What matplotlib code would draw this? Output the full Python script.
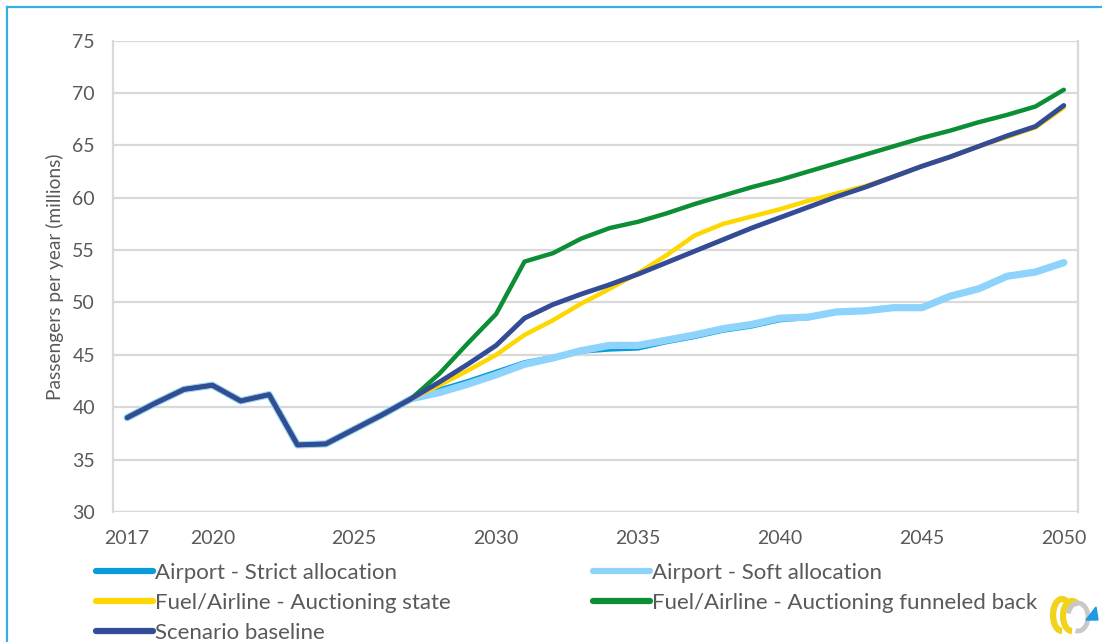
import matplotlib
matplotlib.use("Agg")
import matplotlib.pyplot as plt
from matplotlib.lines import Line2D
from matplotlib.patches import Arc, Polygon

plt.rcParams["font.family"] = ["Lato", "DejaVu Sans"]

# ---- data -------------------------------------------------------------
years = list(range(2017, 2051))
tick_years = [2017, 2020, 2025, 2030, 2035, 2040, 2045, 2050]

history = [39.0, 40.4, 41.7, 42.1, 40.6, 41.2, 36.4, 36.5, 37.9, 39.3, 40.8]

strict_alloc = history + [41.7, 42.5, 43.4, 44.3, 44.8, 45.3, 45.5, 45.6, 46.2,
                          46.7, 47.3, 47.7, 48.3, 48.5, 49.1, 49.2, 49.5, 49.5,
                          50.6, 51.3, 52.5, 52.9, 53.8]
soft_alloc = history + [41.4, 42.2, 43.1, 44.1, 44.7, 45.4, 45.9, 45.9, 46.4,
                        46.9, 47.5, 47.9, 48.5, 48.6, 49.1, 49.2, 49.5, 49.5,
                        50.6, 51.3, 52.5, 52.9, 53.8]
auction_state = history + [42.1, 43.5, 45.0, 46.9, 48.3, 49.9, 51.3, 52.8, 54.5,
                           56.4, 57.5, 58.2, 58.9, 59.7, 60.4, 61.1, 62.0, 63.0,
                           63.9, 64.9, 65.8, 66.7, 68.6]
auction_back = history + [43.2, 46.1, 48.9, 53.9, 54.7, 56.1, 57.1, 57.7, 58.5,
                          59.4, 60.2, 61.0, 61.7, 62.5, 63.3, 64.1, 64.9, 65.7,
                          66.4, 67.2, 67.9, 68.7, 70.3]
baseline = history + [42.4, 44.1, 45.9, 48.5, 49.8, 50.8, 51.7, 52.7, 53.8,
                      54.9, 56.0, 57.1, 58.1, 59.1, 60.1, 61.0, 62.0, 63.0,
                      63.9, 64.9, 65.9, 66.8, 68.8]

labels = ["Airport - Strict allocation", "Airport - Soft allocation",
          "Fuel/Airline - Auctioning state",
          "Fuel/Airline - Auctioning funneled back", "Scenario baseline"]
colors = ["#0A9BD9", "#8DD3FB", "#FFD700", "#0B8E36", "#344B95"]
widths = [3.0, 5.2, 3.2, 3.2, 3.5]

# ---- figure -----------------------------------------------------------
W, H = 1102, 642
fig = plt.figure(figsize=(W / 100, H / 100), dpi=100)
ax = fig.add_axes([113 / W, 1 - 512 / H, (1078 - 113) / W, (512 - 40.5) / H])

pos = list(range(len(years)))
series = [strict_alloc, soft_alloc, auction_state, auction_back, baseline]
lines = []
for vals, col, lw, lab in zip(series, colors, widths, labels):
    ln, = ax.plot(pos, vals, color=col, lw=lw, label=lab,
                  solid_capstyle="round", solid_joinstyle="round")
    lines.append(ln)

ax.set_xlim(-0.5, len(years) - 0.5)
ax.set_ylim(30, 75)
ax.set_yticks(range(30, 76, 5))
ax.set_xticks([years.index(y) for y in tick_years])
ax.set_xticklabels([str(y) for y in tick_years])

grid_col = "#D9D9D9"
ax.grid(axis="y", color=grid_col, lw=1.6)
ax.set_axisbelow(True)
for side in ["top", "bottom"]:
    ax.spines[side].set_visible(False)
for side in ["left", "right"]:
    ax.spines[side].set_color(grid_col)
    ax.spines[side].set_linewidth(1.6)
ax.axhline(30, color=grid_col, lw=1.6, zorder=0.5)

ax.tick_params(axis="both", length=0, labelsize=14, labelcolor="#595959")
ax.tick_params(axis="x", pad=13)
ax.tick_params(axis="y", pad=13)
ax.set_ylabel("Passengers per year (millions)", fontsize=13.8,
              color="#595959", labelpad=6)

# legend: two columns, row order Strict/Soft, State/Back, Baseline
order = [0, 2, 4, 1, 3]
leg_fs = 16
leg_fs_px = leg_fs * 100 / 72
col2_x = 593  # left edge of the second column's handle (px)


def make_legend(colspace):
    lg = fig.legend([lines[i] for i in order], [labels[i] for i in order],
                    ncol=2, loc="upper left",
                    bbox_to_anchor=(96 / W, 1 - 563 / H),
                    frameon=False, fontsize=leg_fs,
                    handlelength=2.57, handletextpad=0.09,
                    columnspacing=colspace, labelspacing=0.44,
                    borderaxespad=0, borderpad=0)
    for t in lg.get_texts():
        t.set_color("#595959")
    for h in lg.legend_handles:
        h.set_linewidth(4.5)
        h.set_solid_capstyle("round")
    return lg


leg = make_legend(8.0)
fig.canvas.draw()
renderer = fig.canvas.get_renderer()
col1_right = max(leg.get_texts()[i].get_window_extent(renderer).x1 for i in range(3))
leg.remove()
leg = make_legend((col2_x - col1_right) / leg_fs_px)

# outer frame (left and top edges)
frame_col = "#3AAEE3"
fig.add_artist(Line2D([7 / W, 7 / W], [0, 1 - 7 / H], color=frame_col, lw=1.6,
                      transform=fig.transFigure))
fig.add_artist(Line2D([7 / W, 1], [1 - 7 / H, 1 - 7 / H], color=frame_col, lw=1.6,
                      transform=fig.transFigure))

# small logo, bottom right
lax = fig.add_axes([1040 / W, 0, 62 / W, 50 / H])
lax.set_xlim(1040, 1102)
lax.set_ylim(642, 592)
lax.axis("off")
lax.add_patch(Arc((1062, 615), 18, 32, theta1=90, theta2=300, color="#F2D31B", lw=4.5))
lax.add_patch(Arc((1072, 616), 18, 30, theta1=90, theta2=300, color="#F2D31B", lw=4.5))
lax.add_patch(Arc((1078, 617), 20, 28, theta1=200, theta2=460, color="#C8C8C8", lw=3.5))
lax.add_patch(Polygon([[1086, 620], [1098, 620], [1096, 607]], closed=True,
                      color="#1E9BE0"))

fig.savefig("out.png", dpi=100, facecolor="white")
